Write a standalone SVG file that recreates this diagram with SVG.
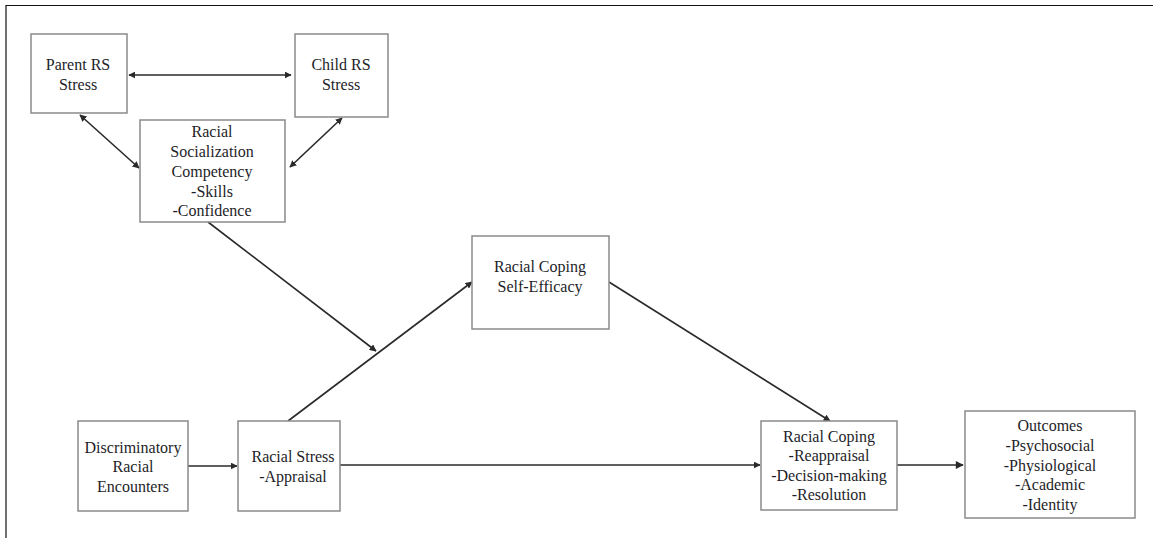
<svg xmlns="http://www.w3.org/2000/svg" width="1153" height="538" viewBox="0 0 1153 538">
  <style>
    .box { fill: #ffffff; stroke: #8a8a8a; stroke-width: 1.5; }
    .lbl { font-family: "Liberation Serif", "Times New Roman", serif; font-size: 16px; fill: #1e1e28; text-anchor: middle; }
    .edge { stroke: #2a2a2a; stroke-width: 1.6; fill: none; }
    .frame { stroke: #111; stroke-width: 1.2; fill: none; }
  </style>
  <defs>
    <marker id="arrow" viewBox="0 0 10 10" refX="9" refY="5" markerWidth="7" markerHeight="7" orient="auto-start-reverse" markerUnits="userSpaceOnUse">
      <path d="M0,0 L10,5 L0,10 z" fill="#2a2a2a"/>
    </marker>
    <marker id="arrowBig" viewBox="0 0 10 10" refX="9" refY="5" markerWidth="9" markerHeight="8" orient="auto" markerUnits="userSpaceOnUse">
      <path d="M0,0 L10,5 L0,10 z" fill="#2a2a2a"/>
    </marker>
  </defs>

  <rect width="1153" height="538" fill="#ffffff"/>
  <!-- page frame: top and left rules -->
  <path class="frame" d="M6,538 V5.5 H1153"/>

  <!-- connectors -->
  <g id="connectors">
    <line class="edge" x1="129" y1="75" x2="291" y2="75" marker-start="url(#arrow)" marker-end="url(#arrow)"/>
    <line class="edge" x1="80" y1="115" x2="139" y2="168" marker-start="url(#arrow)" marker-end="url(#arrow)"/>
    <line class="edge" x1="342" y1="118" x2="290" y2="167" marker-start="url(#arrow)" marker-end="url(#arrow)"/>
    <line class="edge" x1="208" y1="222" x2="376" y2="351" marker-end="url(#arrow)"/>
    <line class="edge" x1="288" y1="421" x2="472" y2="282" marker-end="url(#arrow)"/>
    <line class="edge" x1="609" y1="282" x2="830" y2="421" marker-end="url(#arrow)"/>
    <line class="edge" x1="188" y1="466" x2="237" y2="466" marker-end="url(#arrow)"/>
    <line class="edge" x1="340" y1="465" x2="760" y2="465" marker-end="url(#arrow)"/>
    <line class="edge" x1="897" y1="465" x2="963" y2="465" stroke-width="2.6" marker-end="url(#arrowBig)"/>
  </g>

  <g id="parent-rs-stress">
    <rect class="box" x="31" y="34" width="96" height="79"/>
    <text class="lbl" x="78" y="70">Parent RS</text>
    <text class="lbl" x="78" y="90">Stress</text>
  </g>

  <g id="child-rs-stress">
    <rect class="box" x="295" y="34" width="93" height="83"/>
    <text class="lbl" x="341" y="70">Child RS</text>
    <text class="lbl" x="341" y="90">Stress</text>
  </g>

  <g id="racial-socialization-competency">
    <rect class="box" x="140" y="120" width="145" height="102"/>
    <text class="lbl" x="212" y="137">Racial</text>
    <text class="lbl" x="212" y="157">Socialization</text>
    <text class="lbl" x="212" y="177">Competency</text>
    <text class="lbl" x="212" y="197">-Skills</text>
    <text class="lbl" x="212" y="216">-Confidence</text>
  </g>

  <g id="racial-coping-self-efficacy">
    <rect class="box" x="472" y="236" width="137" height="93"/>
    <text class="lbl" x="540" y="272">Racial Coping</text>
    <text class="lbl" x="540" y="292">Self-Efficacy</text>
  </g>

  <g id="discriminatory-racial-encounters">
    <rect class="box" x="78" y="421" width="110" height="90"/>
    <text class="lbl" x="133" y="453">Discriminatory</text>
    <text class="lbl" x="133" y="472">Racial</text>
    <text class="lbl" x="133" y="492">Encounters</text>
  </g>

  <g id="racial-stress">
    <rect class="box" x="238" y="421" width="102" height="90"/>
    <text class="lbl" x="293" y="462">Racial Stress</text>
    <text class="lbl" x="293" y="482">-Appraisal</text>
  </g>

  <g id="racial-coping">
    <rect class="box" x="761" y="421" width="136" height="89"/>
    <text class="lbl" x="829" y="442">Racial Coping</text>
    <text class="lbl" x="829" y="461">-Reappraisal</text>
    <text class="lbl" x="829" y="481">-Decision-making</text>
    <text class="lbl" x="829" y="500">-Resolution</text>
  </g>

  <g id="outcomes">
    <rect class="box" x="965" y="411" width="170" height="107"/>
    <text class="lbl" x="1050" y="431">Outcomes</text>
    <text class="lbl" x="1050" y="451">-Psychosocial</text>
    <text class="lbl" x="1050" y="471">-Physiological</text>
    <text class="lbl" x="1050" y="490">-Academic</text>
    <text class="lbl" x="1050" y="510">-Identity</text>
  </g>
</svg>
